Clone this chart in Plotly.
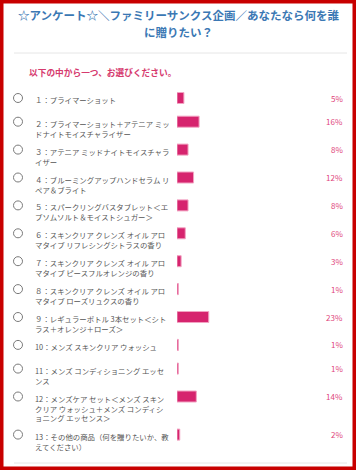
import plotly.graph_objects as go

W, H = 356, 470

title_lines = ["☆アンケート☆＼ファミリーサンクス企画／あなたなら何を誰", "に贈りたい？"]
subtitle = "以下の中から一つ、お選びください。"

labels = [
    "１：プライマーショット",
    "２：プライマーショット＋アテニア ミッ<br>ドナイトモイスチャライザー",
    "３：アテニア ミッドナイトモイスチャラ<br>イザー",
    "４：ブルーミングアップハンドセラム リ<br>ペア＆ブライト",
    "５：スパークリングバスタブレット＜エ<br>プソムソルト＆モイストシュガー＞",
    "６：スキンクリア クレンズ オイル アロ<br>マタイプ リフレシングシトラスの香り",
    "７：スキンクリア クレンズ オイル アロ<br>マタイプ ピースフルオレンジの香り",
    "８：スキンクリア クレンズ オイル アロ<br>マタイプ ローズリュクスの香り",
    "９：レギュラーボトル 3本セット＜シト<br>ラス＋オレンジ＋ローズ＞",
    "10：メンズ スキンクリア ウォッシュ",
    "11：メンズ コンディショニング エッセ<br>ンス",
    "12：メンズケア セット＜メンズ スキン<br>クリア ウォッシュ＋メンズ コンディシ<br>ョニング エッセンス＞",
    "13：その他の商品（何を贈りたいか、教<br>えてください）",
]
values = [5, 16, 8, 12, 8, 6, 3, 1, 23, 1, 1, 14, 2]
pct_text = [f"{v}%" for v in values]

FONT = "Noto Sans CJK JP"
PINK = "#d6246e"

# vertical layout of rows (pixel units on a reversed y axis)
ys = []
y = 98.0
for lab in labels:
    ys.append(y)
    n = lab.count("<br>") + 1
    y += max(23.7, 7.5 + 10.2 * n)

bar_x0 = 177
px_per_pct = 1.38

fig = go.Figure()
fig.add_trace(go.Bar(
    x=values, y=ys, orientation="h", width=11,
    marker=dict(color=PINK, line=dict(color="#f2a3c2", width=1)),
    hoverinfo="skip",
))

ann = []
for i, t in enumerate(title_lines):
    ann.append(dict(x=0.5, xref="paper", y=[15, 31.5][i], yref="y", text=f"<b>{t}</b>",
                    showarrow=False, xanchor="center", yanchor="middle",
                    font=dict(family=FONT, size=11.5, color="#3b78b4")))
ann.append(dict(x=27 / W, xref="paper", y=72, yref="y", text=f"<b>{subtitle}</b>",
                showarrow=False, xanchor="left", yanchor="middle",
                font=dict(family=FONT, size=8.7, color="#d63a6e")))

shapes = []
for lab, yy, pt in zip(labels, ys, pct_text):
    ann.append(dict(x=33 / W, xref="paper", y=yy - 6, yref="y", text=lab,
                    showarrow=False, xanchor="left", yanchor="top", align="left",
                    font=dict(family=FONT, size=7.4, color="#555555")))
    ann.append(dict(x=345 / W, xref="paper", y=yy, yref="y", text=pt,
                    showarrow=False, xanchor="right", yanchor="middle",
                    font=dict(family=FONT, size=8, color="#e0457b")))
    shapes.append(dict(type="circle", xref="paper", yref="y",
                       x0=13.5 / W, x1=22.5 / W, y0=yy - 4.5, y1=yy + 4.5,
                       line=dict(color="#7a7a7a", width=1)))

for ly in (53, 463):
    shapes.append(dict(type="line", xref="paper", yref="y", x0=14 / W, x1=347 / W,
                       y0=ly, y1=ly, line=dict(color="#e6e6e6", width=1)))

shapes.append(dict(type="rect", xref="paper", yref="paper", x0=0, x1=1, y0=0, y1=1,
                   line=dict(color="#c80000", width=7)))

fig.update_layout(
    width=W, height=H,
    margin=dict(l=0, r=0, t=0, b=0),
    paper_bgcolor="white", plot_bgcolor="white",
    showlegend=False,
    xaxis=dict(domain=[bar_x0 / W, 1], range=[0, (W - bar_x0) / px_per_pct],
               visible=False, fixedrange=True),
    yaxis=dict(domain=[0, 1], range=[H, 0], visible=False, fixedrange=True),
    annotations=ann, shapes=shapes,
)

fig.write_html("out.html", config={"displayModeBar": False})
